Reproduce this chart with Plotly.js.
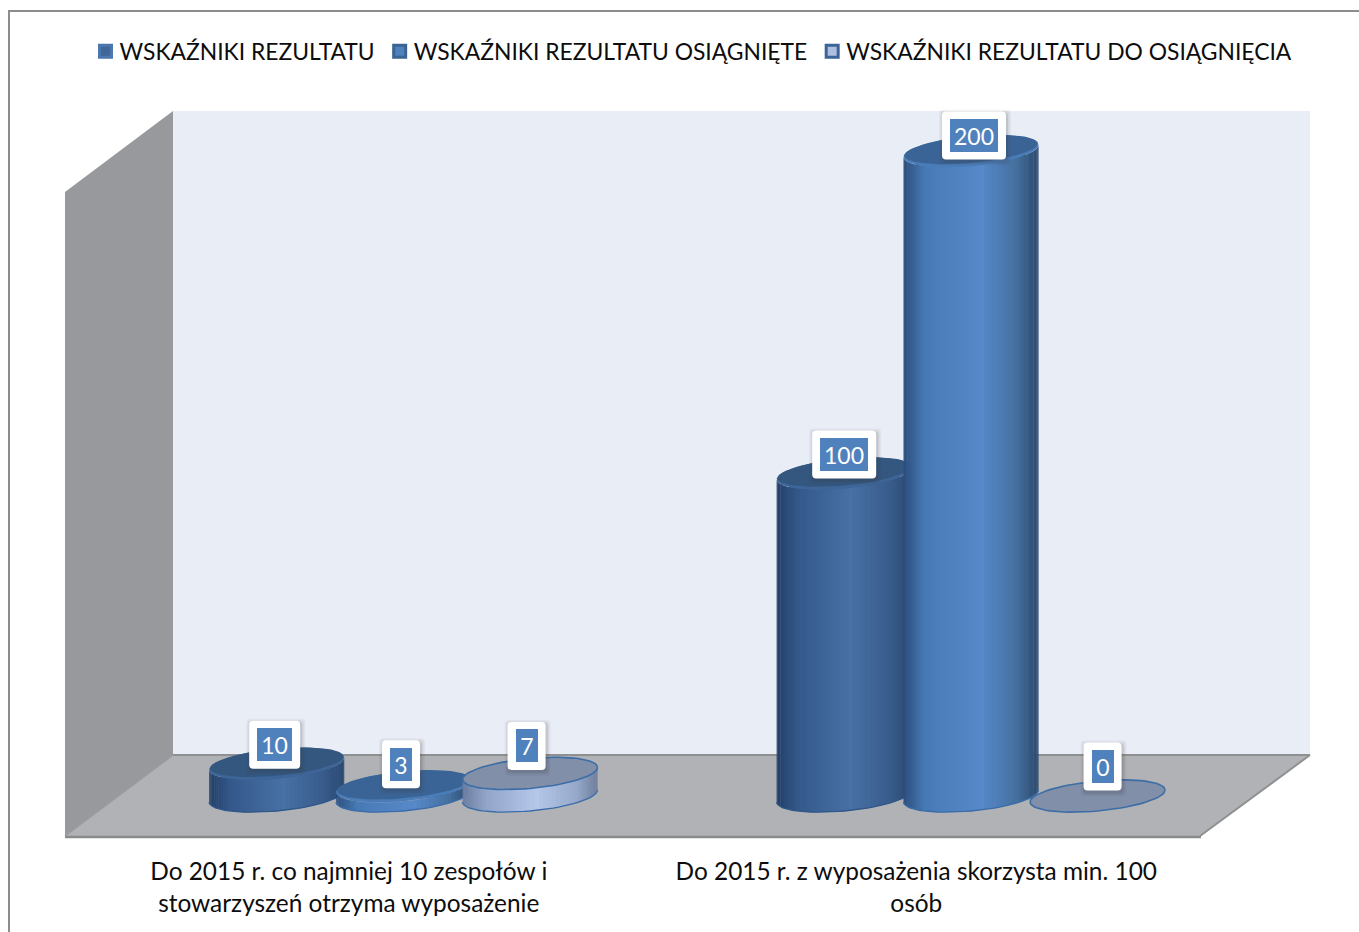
<!DOCTYPE html>
<html><head><meta charset="utf-8">
<script src="https://cdn.plot.ly/plotly-3.0.1.min.js"></script>
<style>html,body{margin:0;padding:0;background:#fff;overflow:hidden}
.legend .legendsymbols{transform:translate(6px,0)}</style></head>
<body><div id="chart" style="width:1359px;height:932px"></div>
<script>
const categories = ["Do 2015 r. co najmniej 10 zespołów i<br>stowarzyszeń otrzyma wyposażenie","Do 2015 r. z wyposażenia skorzysta min. 100<br>osób"];
const seriesNames = ["WSKAŹNIKI REZULTATU","WSKAŹNIKI REZULTATU OSIĄGNIĘTE","WSKAŹNIKI REZULTATU DO OSIĄGNIĘCIA"];
const wskazniki = [10,100];
const osiagniete = [3,200];
const doOsiagniecia = [7,0];
const seriesValues = [wskazniki,osiagniete,doOsiagniecia];

const FONT = "Lato, 'Open Sans', sans-serif";
const plotH = 840;
const pxPerCat = 567.5, cat0Px = 348.75, zeroPx = 796, pxPerUnit = 3.225;
const X = p => (p-cat0Px)/pxPerCat;
const Y = p => (zeroPx-p)/pxPerUnit;
const seriesOffset = [-0.127,0.0965,0.3195];
const R = 67.5, B = 15, S = 6;

const gradients = [
 [[0,"#223f68"],[0.16,"#34588a"],[0.55,"#4871a5"],[0.84,"#385c8c"],[1,"#2a4870"]],
 [[0,"#2c4d7c"],[0.16,"#477ab5"],[0.58,"#5788c9"],[0.84,"#45709f"],[1,"#2b486c"]],
 [[0,"#6b7da1"],[0.18,"#92a5c9"],[0.55,"#b5c7e9"],[0.85,"#96a8c9"],[1,"#6d7d9b"]]
];
const capColors = ["#34577f","#3b6496","#818fa9"];
const rimColors = ["#3d6597","#4a7cb8","#3d6da6"];
const legendColors = ["#3f6797","#4f81bd","#aebfdf"];
const legendLines = ["#4a78ae","#3a6494","#3b6497"];

const hexRgb = h => [1,3,5].map(i=>parseInt(h.substr(i,2),16));
function gradColor(stops,u){
  for(let i=1;i<stops.length;i++){
    if(u<=stops[i][0]){
      const [a,ca]=stops[i-1],[b,cb]=stops[i],t=(u-a)/(b-a);
      const c0=hexRgb(ca),c1=hexRgb(cb);
      return `rgb(${c0.map((v,k)=>Math.round(v+(c1[k]-v)*t)).join(",")})`;
    }
  }
  return stops[stops.length-1][1];
}
const ePt=(cx,cy,th,r=R,b=B,s=S)=>[cx+r*Math.cos(th), cy-s*Math.cos(th)+b*Math.sin(th)];
function ellipseTrace(cx,cy,fill,line,lw,r,b,s){
  const xs=[],ys=[];
  for(let i=0;i<=72;i++){const p=ePt(cx,cy,i/72*2*Math.PI,r,b,s);xs.push(X(p[0]));ys.push(Y(p[1]));}
  return {type:"scatter",mode:"lines",x:xs,y:ys,fill:"toself",fillcolor:fill,
    line:{color:line||fill,width:lw||0},showlegend:false,hoverinfo:"skip"};
}

const traces=[];
const barW=0.236*0.8;
seriesValues.forEach((vals,s)=>{
  traces.push({type:"bar",name:seriesNames[s],x:[0,1],y:vals,width:barW,offset:seriesOffset[s]-barW/2,
    marker:{color:legendColors[s],line:{color:legendLines[s],width:3}},hoverinfo:"skip"});
});
const N=48;
categories.forEach((_,c)=>{
  seriesValues.forEach((vals,s)=>{
    const v=vals[c];
    const cx=cat0Px+pxPerCat*(c+seriesOffset[s]);
    const cyB=zeroPx, cyT=zeroPx-v*pxPerUnit;
    if(v>0){
      for(let i=0;i<N;i++){
        const t0=Math.PI-Math.PI*i/N, t1=Math.max(0,Math.PI-Math.PI*(i+1.25)/N);
        const a=ePt(cx,cyB,t0),b=ePt(cx,cyB,t1);
        const a2=ePt(cx,cyT,t0),b2=ePt(cx,cyT,t1);
        const u=(0.5*(a[0]+b[0])-(cx-R))/(2*R);
        traces.push({type:"scatter",mode:"lines",
          x:[a[0],b[0],b2[0],a2[0],a[0]].map(X),
          y:[a[1],b[1],b2[1],a2[1],a[1]].map(Y),
          fill:"toself",fillcolor:gradColor(gradients[s],u),line:{width:0,color:"rgba(0,0,0,0)"},
          showlegend:false,hoverinfo:"skip"});
      }
      const xs=[],ys=[];
      for(let i=0;i<=36;i++){const p=ePt(cx,cyB,Math.PI*i/36);xs.push(X(p[0]));ys.push(Y(p[1]));}
      traces.push({type:"scatter",mode:"lines",x:xs,y:ys,line:{color:s===0?"#2f5688":"#3a6ca8",width:1.3},showlegend:false,hoverinfo:"skip"});
      if(s===0||s===1){
        traces.push(ellipseTrace(cx,cyT,rimColors[s]));
        traces.push(ellipseTrace(cx,cyT-1.5,capColors[s],null,0,R-1,B-1.5,S));
      } else {
        traces.push(ellipseTrace(cx,cyT,capColors[s],rimColors[s],1.6));
      }
    } else {
      traces.push(ellipseTrace(cx,cyT,capColors[s],rimColors[s],1.6));
    }
  });
});

const poly=(pts,fill,line,lw)=>({type:"path",xref:"x",yref:"y",layer:"below",
  path:"M"+pts.map(p=>X(p[0])+","+Y(p[1])).join("L")+"Z",fillcolor:fill,line:{color:line||fill,width:lw||0}});
const seg=(a,b,col,w)=>({type:"line",xref:"x",yref:"y",layer:"below",x0:X(a[0]),y0:Y(a[1]),x1:X(b[0]),y1:Y(b[1]),line:{color:col,width:w}});
const shapes=[
  poly([[173,111],[1310,111],[1310,755],[173,755]],"#e9edf6"),
  poly([[65,192],[173,111],[173,755],[65,836]],"#97999d"),
  poly([[173,755],[1310,755],[1200,836],[65,836]],"#b0b2b6"),
  seg([173,755],[1310,755],"#8f9092",2),
  seg([65,837],[1201,837],"#8a8b8c",2.5),
  seg([1200,836],[1310,755],"#8f9092",2),
  seg([65,836],[173,755],"#9a9b9d",1.5),
  {type:"path",xref:"paper",yref:"paper",
   path:`M${1400/1359},${(plotH-11)/plotH}L${9/1359},${(plotH-11)/plotH}L${9/1359},${(plotH-960)/plotH}`,
   line:{color:"#8c8c8c",width:2}}
];

const labelDx=[[-2,0],[-2.5,3],[-3.5,5]];
const labelDy=[[-19,-19],[-22,-15.5],[-27.5,-29.5]];
const annotations=[];
const roundRect=(x0,y0,x1,y1,r,fill)=>({type:"path",xref:"x",yref:"y",layer:"above",
  path:`M${X(x0+r)},${Y(y0)}L${X(x1-r)},${Y(y0)}Q${X(x1)},${Y(y0)} ${X(x1)},${Y(y0+r)}L${X(x1)},${Y(y1-r)}Q${X(x1)},${Y(y1)} ${X(x1-r)},${Y(y1)}L${X(x0+r)},${Y(y1)}Q${X(x0)},${Y(y1)} ${X(x0)},${Y(y1-r)}L${X(x0)},${Y(y0+r)}Q${X(x0)},${Y(y0)} ${X(x0+r)},${Y(y0)}Z`,
  fillcolor:fill,line:{width:0,color:"rgba(0,0,0,0)"}});
categories.forEach((_,c)=>seriesValues.forEach((vals,s)=>{
  const v=vals[c], str=String(v);
  const w=9+13*str.length, h=33;
  const cx=cat0Px+pxPerCat*(c+seriesOffset[s])+labelDx[s][c];
  const cy=zeroPx-v*pxPerUnit+labelDy[s][c];
  const ow=w+16, oh=h+15;
  [[4,"rgba(60,60,60,0.05)"],[2.5,"rgba(60,60,60,0.08)"],[1,"rgba(60,60,60,0.12)"]].forEach(([e,col])=>{
    shapes.push(roundRect(cx-ow/2-e+1,cy-oh/2-e+2,cx+ow/2+e+1,cy+oh/2+e+2,4,col));
  });
  shapes.push(roundRect(cx-ow/2,cy-oh/2,cx+ow/2,cy+oh/2,4,"#ffffff"));
  annotations.push({x:X(cx),y:Y(cy),xref:"x",yref:"y",text:str,showarrow:false,xanchor:"center",yanchor:"middle",
    width:w,height:h,bgcolor:"#4f81bd",borderpad:0,borderwidth:0,align:"center",valign:"middle",
    font:{family:FONT,size:23,color:"#ffffff"}});
}));

const layout={
  width:1359,height:932,margin:{l:0,r:0,t:0,b:932-plotH,pad:0},
  paper_bgcolor:"#ffffff",plot_bgcolor:"#ffffff",showlegend:true,barmode:"overlay",
  font:{family:FONT,size:23,color:"#0d0d0d"},
  xaxis:{range:[X(0),X(1359)],tickmode:"array",tickvals:[0,1],ticktext:categories,showgrid:false,zeroline:false,showline:false,
    ticks:"outside",ticklen:10,tickcolor:"rgba(0,0,0,0)",tickangle:0,fixedrange:true,automargin:false,
    tickfont:{family:FONT,size:24.4,color:"#0d0d0d"}},
  yaxis:{range:[Y(plotH),Y(0)],visible:false,fixedrange:true},
  legend:{orientation:"h",x:85.5/1359,y:(plotH-30)/plotH,xanchor:"left",yanchor:"top",bgcolor:"rgba(0,0,0,0)",indentation:-6,
    font:{family:FONT,size:22.85,color:"#0d0d0d"},traceorder:"normal"},
  shapes,annotations
};
Plotly.newPlot("chart",traces,layout,{displayModeBar:false,staticPlot:true});
</script></body></html>
